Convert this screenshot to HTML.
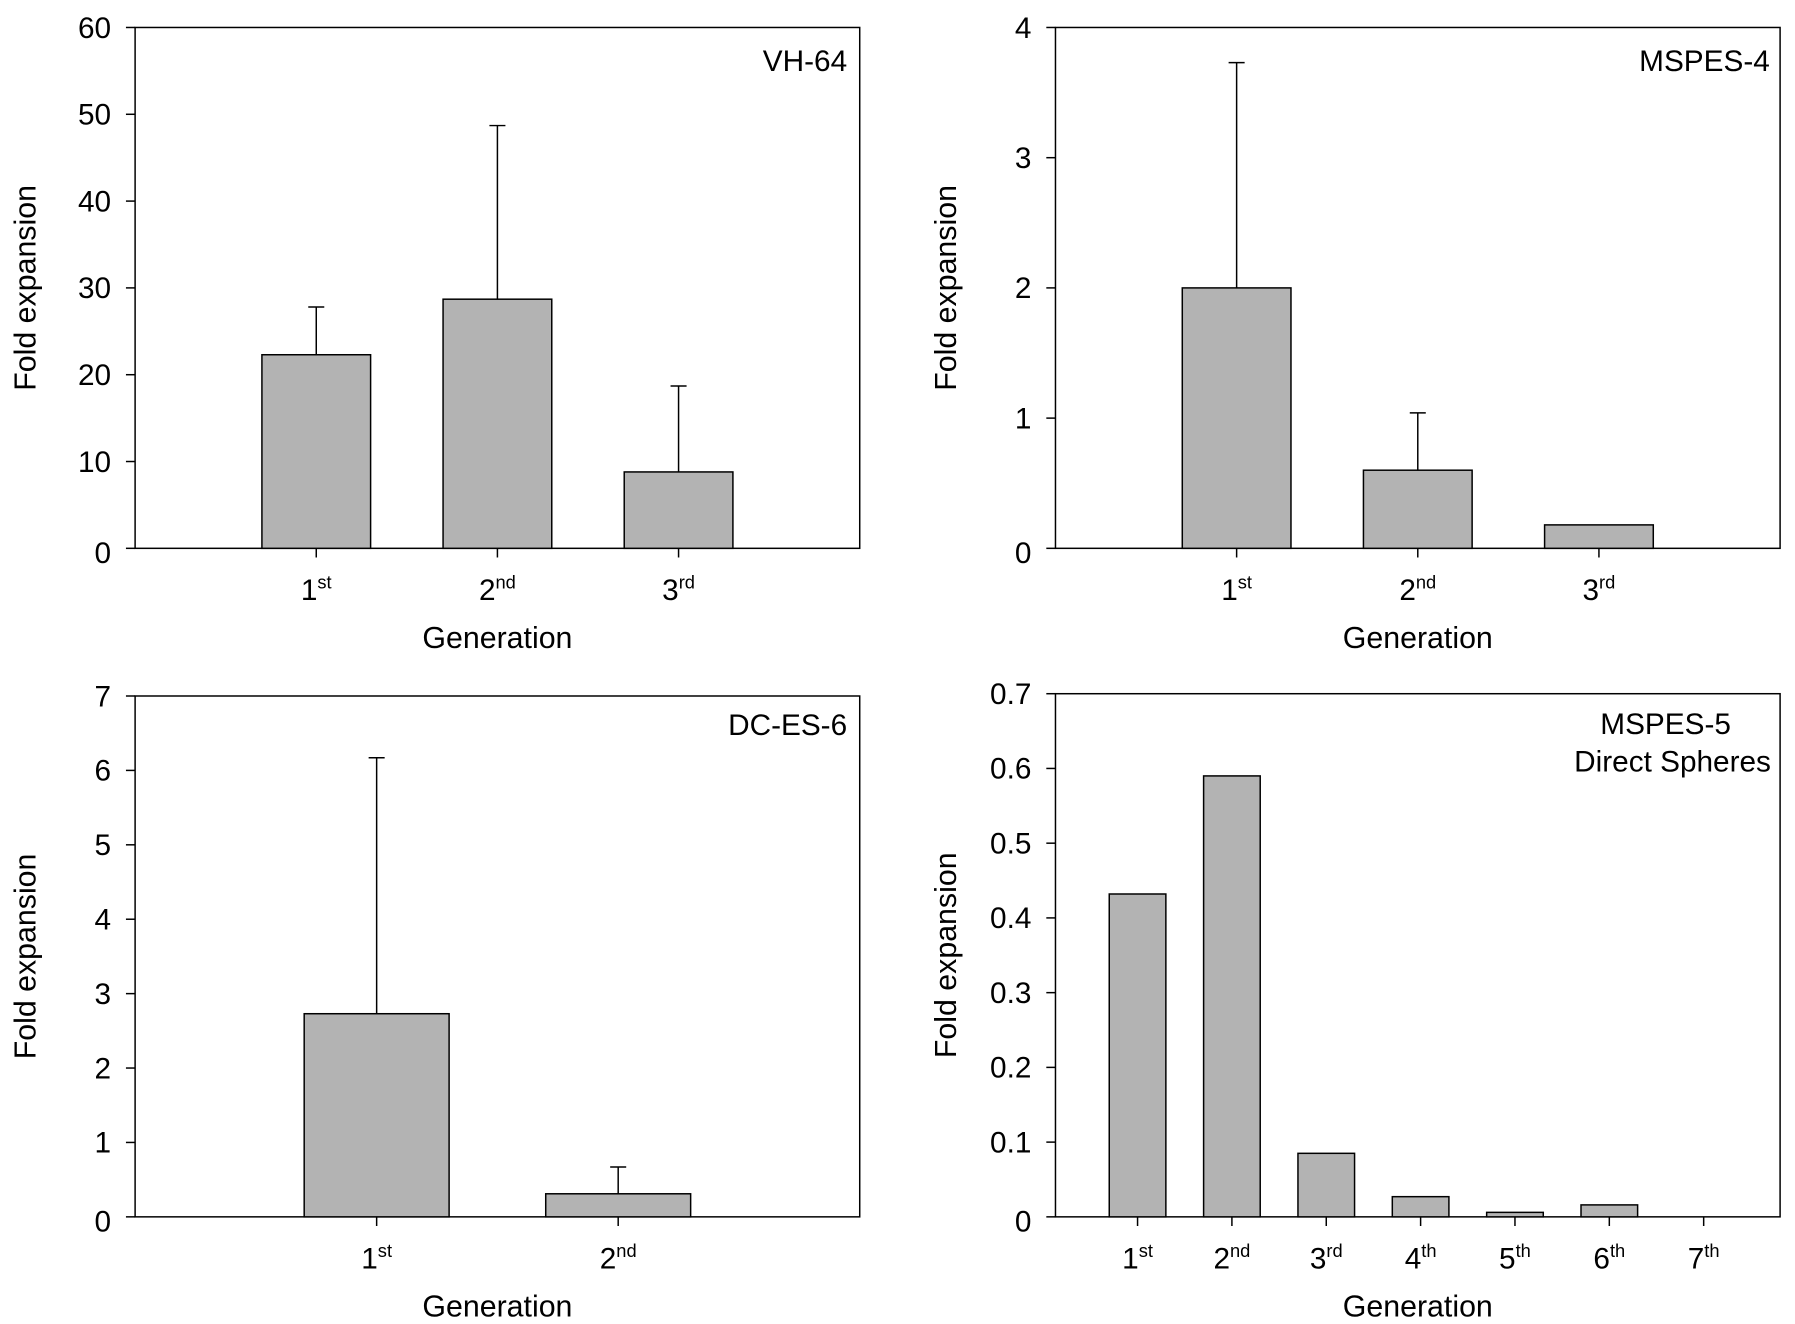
<!DOCTYPE html>
<html><head><meta charset="utf-8">
<style>
html,body{margin:0;padding:0;background:#fff;}
svg{display:block;}
text{font-family:"Liberation Sans",sans-serif;fill:#000;}
.t{font-size:26px;}
.ti{font-family:"Liberation Sans",sans-serif;font-size:26.5px;}
</style></head>
<body>
<svg id="fig" width="1795" height="1324" viewBox="0 0 1568 1156.6"></svg>
<script>
// Panel A: VH-64
const catsA = ["1","2","3"];
const supA = ["st","nd","rd"];
const valsA = [22.3, 28.7, 8.8];
const errTopA = [27.8, 48.7, 18.7];
const ticksA = [0,10,20,30,40,50,60];
// Panel B: MSPES-4
const catsB = ["1","2","3"];
const supB = ["st","nd","rd"];
const valsB = [2.0, 0.6, 0.18];
const errTopB = [3.73, 1.04, null];
const ticksB = [0,1,2,3,4];
// Panel C: DC-ES-6
const catsC = ["1","2"];
const supC = ["st","nd"];
const valsC = [2.73, 0.31];
const errTopC = [6.17, 0.67];
const ticksC = [0,1,2,3,4,5,6,7];
// Panel D: MSPES-5 Direct Spheres
const catsD = ["1","2","3","4","5","6","7"];
const supD = ["st","nd","rd","th","th","th","th"];
const valsD = [0.432, 0.59, 0.085, 0.027, 0.006, 0.016, 0];
const errTopD = [null,null,null,null,null,null,null];
const ticksD = ["0","0.1","0.2","0.3","0.4","0.5","0.6","0.7"];

const NS="http://www.w3.org/2000/svg";
const svg=document.getElementById('fig');
function mk(tag,attrs,parent,txt){const e=document.createElementNS(NS,tag);for(const k in attrs)e.setAttribute(k,attrs[k]);if(txt!==undefined)e.textContent=txt;(parent||svg).appendChild(e);return e;}

function panel(cfg){
  const g=mk('g',{});
  
  
  const {x0,x1,y0,y1,ymax,xmin,xmax}=cfg;
  const sx=v=>x0+(v-xmin)/(xmax-xmin)*(x1-x0);
  const sy=v=>y1-(v/ymax)*(y1-y0);
  const frame=mk('rect',{x:x0,y:y0,width:x1-x0,height:y1-y0,fill:'none',stroke:'#000','stroke-width':1.3},g);
  
  
  cfg.ticks.forEach(t=>{
    const v=parseFloat(t);
    const y=sy(v);
    mk('line',{x1:x0-8,x2:x0,y1:y,y2:y,stroke:'#000','stroke-width':1.3},g);
    const lb=mk('text',{x:x0-21,y:y+9+(v===0?4:0),'text-anchor':'end',class:'t'},g,String(t));
    
    
  });
  cfg.vals.forEach((v,i)=>{
    const c=i+1;
    const bw=0.6;
    if(v>0){
      const r=mk('rect',{x:sx(c-bw/2),y:sy(v),width:sx(c+bw/2)-sx(c-bw/2),height:y1-sy(v),fill:'#b3b3b3',stroke:'#000','stroke-width':1.3},g);
      
      
    }
    const e=cfg.err[i];
    if(e!==null&&e!==undefined){
      const xc=sx(c);
      const el=mk('line',{x1:xc,x2:xc,y1:sy(v),y2:sy(e),stroke:'#000','stroke-width':1.3},g);
      
      
      mk('line',{x1:xc-7,x2:xc+7,y1:sy(e),y2:sy(e),stroke:'#000','stroke-width':1.3},g);
    }
    const xc=sx(c);
    mk('line',{x1:xc,x2:xc,y1:y1,y2:y1+8,stroke:'#000','stroke-width':1.3},g);
    const tl=mk('text',{x:xc,y:y1+45,'text-anchor':'middle',class:'t'},g);
    
    
    mk('tspan',{},tl,cfg.cats[i]);
    mk('tspan',{'font-size':'16','dy':'-10'},tl,cfg.sup[i]);
  });
  const xt=mk('text',{x:(x0+x1)/2,y:y1+87,'text-anchor':'middle',class:'ti'},g,'Generation');
  
  
  const yc=(y0+y1)/2;
  const yt=mk('text',{x:x0-87,y:yc,'text-anchor':'middle',class:'ti',transform:`rotate(-90 ${x0-87} ${yc})`},g,'Fold expansion');
  
  
  cfg.label.forEach((l,k)=>{
    const pl=mk('text',{x:l.x,y:l.y,'text-anchor':l.a,class:'t'},g,l.t);
    
    
  });
}

panel({name:'panel-vh64',x0:118,x1:751,y0:24,y1:479,ymax:60,xmin:0,xmax:4,ticks:ticksA,vals:valsA,err:errTopA,cats:catsA,sup:supA,
  label:[{t:'VH-64',x:740,y:62,a:'end'}]});
panel({name:'panel-mspes4',x0:922,x1:1555,y0:24,y1:479,ymax:4,xmin:0,xmax:4,ticks:ticksB,vals:valsB,err:errTopB,cats:catsB,sup:supB,
  label:[{t:'MSPES-4',x:1546,y:62,a:'end'}]});
panel({name:'panel-dces6',x0:118,x1:751,y0:608,y1:1063,ymax:7,xmin:0,xmax:3,ticks:ticksC,vals:valsC,err:errTopC,cats:catsC,sup:supC,
  label:[{t:'DC-ES-6',x:740,y:642,a:'end'}]});
panel({name:'panel-mspes5',x0:922,x1:1555,y0:606,y1:1063,ymax:0.7,xmin:0.13,xmax:7.81,ticks:ticksD,vals:valsD,err:errTopD,cats:catsD,sup:supD,
  label:[{t:'MSPES-5',x:1455,y:641,a:'middle'},{t:'Direct Spheres',x:1547,y:674,a:'end'}]});
</script>
</body></html>
